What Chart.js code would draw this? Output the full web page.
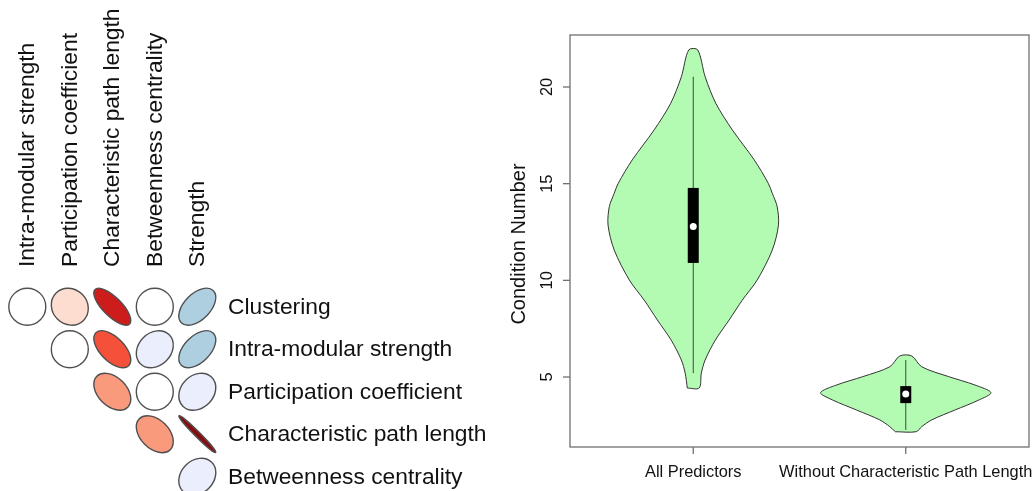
<!DOCTYPE html>
<html><head><meta charset="utf-8">
<script src="https://cdn.jsdelivr.net/npm/chart.js@4.4.1/dist/chart.umd.min.js"></script>
<style>
html,body{margin:0;padding:0;background:#fff;}
#wrap{position:relative;width:1036px;height:491px;overflow:hidden;}
.pane{position:absolute;top:0;}
</style></head><body>
<div id="wrap">
  <div class="pane" style="left:0;width:500px;height:491px"><canvas id="corr" width="500" height="491"></canvas></div>
  <div class="pane" style="left:480px;width:556px;height:491px"><canvas id="violin" width="556" height="491"></canvas></div>
</div>
<script>
// ---------------- DATA ----------------
// correlation panel (upper triangle, diagonal omitted)
const corrColumns = ['Intra-modular strength','Participation coefficient','Characteristic path length','Betweenness centrality','Strength'];
const corrRows = ['Clustering','Intra-modular strength','Participation coefficient','Characteristic path length','Betweenness centrality'];
const corrClustering   = [0.0, -0.1, -0.74, 0.0, 0.5];
const corrIntraModular = [0.0, -0.58, 0.22, 0.5];
const corrParticipation = [-0.4, 0.0, 0.22];
const corrPathLength   = [-0.4, -0.98];
const corrBetweenness  = [0.22];

// violin panel
const violinCategories = ['All Predictors','Without Characteristic Path Length'];
const violinTicks = [5, 10, 15, 20];
const violin1Values = [4.43, 5.2, 5.88, 6.91, 7.95, 8.98, 10.02, 11.57, 12.86, 13.81, 14.5, 15.02, 16.23, 17.78, 19.16, 20.53, 21.92];
const violin1HalfWidth = [0.028, 0.038, 0.056, 0.104, 0.169, 0.231, 0.301, 0.372, 0.401, 0.395, 0.372, 0.353, 0.287, 0.184, 0.106, 0.056, 0.021];
const violin2Values = [2.17, 2.43, 2.78, 3.29, 3.81, 4.19, 4.59, 5.02, 5.53, 6.09];
const violin2HalfWidth = [0.049, 0.075, 0.122, 0.231, 0.344, 0.401, 0.325, 0.202, 0.075, 0.028];
const whiskerLow  = [5.2, 2.26];
const whiskerHigh = [20.53, 5.88];
const boxLow  = [10.9, 3.65];
const boxHigh = [14.78, 4.53];
const medians = [12.78, 4.12];

// ---------------- STYLE ----------------
const FONT = '"Liberation Sans", Arial, Helvetica, sans-serif';
const corrPalette = [
  [-1.0, [110, 0, 0]], [-0.98, [139, 12, 12]], [-0.74, [204, 28, 28]], [-0.58, [245, 80, 58]],
  [-0.4, [249, 154, 124]], [-0.1, [253, 221, 208]], [0.0, [255, 255, 255]],
  [0.22, [235, 239, 253]], [0.5, [174, 207, 224]], [1.0, [33, 102, 172]]
];
function corrColor(v) {
  for (let i = 0; i < corrPalette.length - 1; i++) {
    const [a, ca] = corrPalette[i], [b, cb] = corrPalette[i + 1];
    if (v >= a && v <= b) {
      const t = b === a ? 0 : (v - a) / (b - a);
      const c = ca.map((q, k) => Math.round(q + (cb[k] - q) * t));
      return `rgb(${c[0]},${c[1]},${c[2]})`;
    }
  }
  return '#fff';
}

// ---------------- CORRELATION CHART ----------------
const corrRowsValues = [corrClustering, corrIntraModular, corrParticipation, corrPathLength, corrBetweenness];
const corrPoints = [];
corrRowsValues.forEach((arr, ri) => arr.forEach((v, j) => corrPoints.push({x: ri + j + 1, y: ri + 1, v})));

const corrPlugin = {
  id: 'corrEllipses',
  afterDatasetsDraw(chart) {
    const ctx = chart.ctx, xs = chart.scales.x, ys = chart.scales.y;
    const meta = chart.getDatasetMeta(0);
    const data = chart.data.datasets[0].data;
    const cell = Math.abs(xs.getPixelForValue(2) - xs.getPixelForValue(1));
    const s = cell * 0.435;
    meta.data.forEach((el, i) => {
      const r = data[i].v;
      ctx.save();
      ctx.beginPath();
      ctx.ellipse(el.x, el.y, Math.max(0.5, s * Math.sqrt(1 + r)), Math.max(0.5, s * Math.sqrt(1 - r)), -Math.PI / 4, 0, Math.PI * 2);
      ctx.fillStyle = corrColor(r);
      ctx.fill();
      ctx.lineWidth = 1.4;
      ctx.strokeStyle = '#505050';
      ctx.stroke();
      ctx.restore();
    });
    const fs = 22.8;
    ctx.save();
    ctx.fillStyle = '#111';
    ctx.font = `${fs}px ${FONT}`;
    // column labels (rotated)
    corrColumns.forEach((lab, j) => {
      const x = xs.getPixelForValue(j + 1);
      ctx.save();
      ctx.translate(x + 0.3 * fs, 267);
      ctx.rotate(-Math.PI / 2);
      ctx.textAlign = 'left';
      ctx.textBaseline = 'alphabetic';
      ctx.fillText(lab, 0, 0);
      ctx.restore();
    });
    // row labels
    corrRows.forEach((lab, i) => {
      const y = ys.getPixelForValue(i + 1);
      ctx.textAlign = 'left';
      ctx.textBaseline = 'alphabetic';
      ctx.fillText(lab, 228, y + 0.3 * fs);
    });
    ctx.restore();
  }
};

new Chart(document.getElementById('corr'), {
  type: 'scatter',
  data: { datasets: [{ data: corrPoints, pointRadius: 0, pointHoverRadius: 0 }] },
  options: {
    responsive: false, animation: false, events: [],
    layout: { padding: { left: 6.05, right: 281.45, top: 285.45, bottom: 1.55 } },
    scales: {
      x: { type: 'linear', min: 0.5, max: 5.5, display: false },
      y: { type: 'linear', min: 0.5, max: 5.3, reverse: true, display: false }
    },
    plugins: { legend: { display: false }, tooltip: { enabled: false } }
  },
  plugins: [corrPlugin]
});

// ---------------- VIOLIN CHART ----------------
function violinShape(center, values, hw) {
  const pts = [];
  for (let i = 0; i < values.length; i++) pts.push({x: center - hw[i], y: values[i]});
  for (let i = values.length - 1; i >= 0; i--) pts.push({x: center + hw[i], y: values[i]});
  pts.push({x: center - hw[0], y: values[0]});
  return pts;
}
const violinSets = [[violin1Values, violin1HalfWidth], [violin2Values, violin2HalfWidth]];
const datasets = [];
violinSets.forEach(([vals, hw], i) => {
  datasets.push({ data: violinShape(i + 1, vals, hw), fill: 'shape', backgroundColor: '#b3fab3',
    borderColor: '#333', borderWidth: 1, pointRadius: 0, tension: 0.3, order: 4 });
  datasets.push({ data: [{x: i + 1, y: whiskerLow[i]}, {x: i + 1, y: whiskerHigh[i]}], borderColor: '#444',
    borderWidth: 1, pointRadius: 0, fill: false, order: 3 });
  datasets.push({ data: [{x: i + 1, y: boxLow[i]}, {x: i + 1, y: boxHigh[i]}], borderColor: '#000',
    borderWidth: 11, borderCapStyle: 'butt', pointRadius: 0, fill: false, order: 2 });
  datasets.push({ data: [{x: i + 1, y: medians[i]}], showLine: false, pointRadius: 3.5, pointBorderWidth: 0,
    pointBackgroundColor: '#fff', backgroundColor: '#fff', borderColor: '#fff', fill: false, order: 1 });
});

const violinPlugin = {
  id: 'violinAxes',
  afterDraw(chart) {
    const ctx = chart.ctx, ca = chart.chartArea, xs = chart.scales.x, ys = chart.scales.y;
    ctx.save();
    ctx.strokeStyle = '#707070';
    ctx.lineWidth = 1.3;
    ctx.strokeRect(ca.left, ca.top, ca.right - ca.left, ca.bottom - ca.top);
    // y ticks
    ctx.fillStyle = '#111';
    ctx.font = `16.4px ${FONT}`;
    violinTicks.forEach(t => {
      const y = ys.getPixelForValue(t);
      ctx.beginPath(); ctx.moveTo(ca.left - 7, y); ctx.lineTo(ca.left, y); ctx.stroke();
      ctx.save();
      ctx.translate(ca.left - 18, y);
      ctx.rotate(-Math.PI / 2);
      ctx.textAlign = 'center'; ctx.textBaseline = 'alphabetic';
      ctx.fillText(String(t), 0, 0);
      ctx.restore();
    });
    // x ticks
    violinCategories.forEach((lab, i) => {
      const x = xs.getPixelForValue(i + 1);
      ctx.beginPath(); ctx.moveTo(x, ca.bottom); ctx.lineTo(x, ca.bottom + 7); ctx.stroke();
      ctx.textAlign = 'center'; ctx.textBaseline = 'alphabetic';
      ctx.fillText(lab, x, ca.bottom + 30);
    });
    // y title
    ctx.font = `20px ${FONT}`;
    ctx.save();
    ctx.translate(ca.left - 45, (ca.top + ca.bottom) / 2 + 3);
    ctx.rotate(-Math.PI / 2);
    ctx.textAlign = 'center'; ctx.textBaseline = 'alphabetic';
    ctx.fillText('Condition Number', 0, 0);
    ctx.restore();
    ctx.restore();
  }
};

new Chart(document.getElementById('violin'), {
  type: 'line',
  data: { datasets },
  options: {
    responsive: false, animation: false, events: [],
    layout: { padding: { left: 90, right: 7, top: 35, bottom: 44 } },
    scales: {
      x: { type: 'linear', min: 0.42, max: 2.58, display: false },
      y: { type: 'linear', min: 1.38, max: 22.69, display: false }
    },
    plugins: { legend: { display: false }, tooltip: { enabled: false } }
  },
  plugins: [violinPlugin]
});
</script>
</body></html>
